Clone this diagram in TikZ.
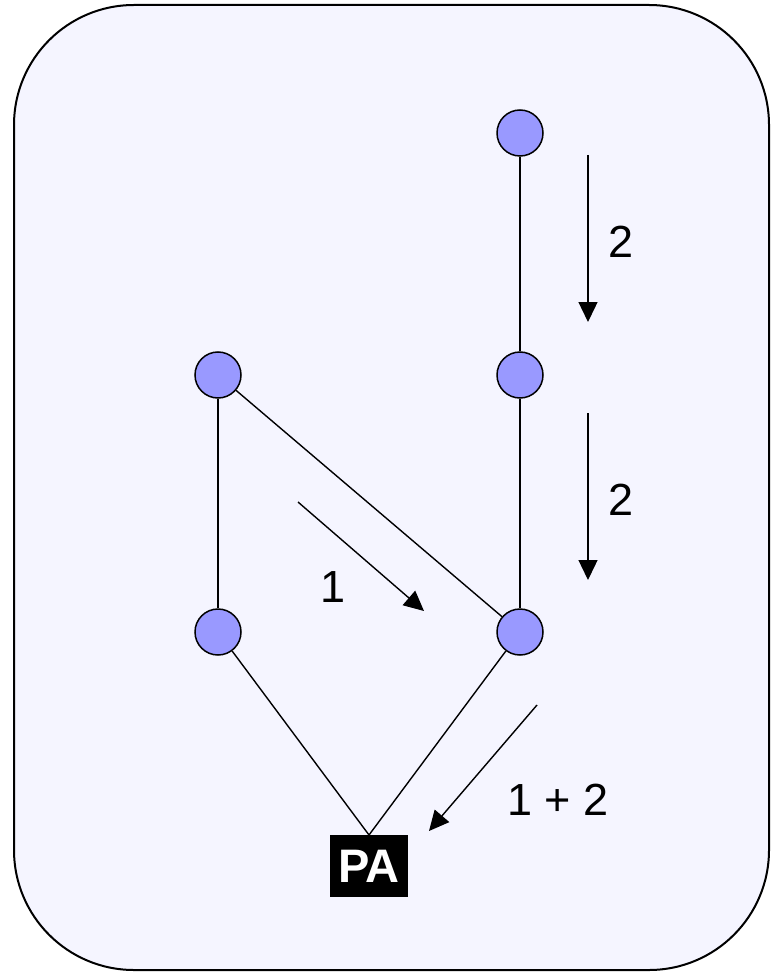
\documentclass[tikz,border=0pt]{standalone}
\usepackage{fontspec}
\setmainfont{Liberation Sans}
\usetikzlibrary{arrows.meta}
\definecolor{panel}{HTML}{F5F5FF}
\definecolor{vertex}{HTML}{9999FF}
\tikzset{
  vert/.style={circle, draw=black, line width=1.5pt, fill=vertex, minimum size=46pt, inner sep=0pt},
  edge/.style={line width=1.4pt},
  flow/.style={line width=1.4pt, -{Triangle[length=20pt,width=19pt]}},
  num/.style={font=\fontsize{45}{48}\selectfont, inner sep=0pt},
  target/.style={fill=black, text=white, minimum width=78pt, minimum height=62pt, inner sep=0pt,
    font=\fontsize{47}{50}\selectfont\bfseries}
}
\begin{document}
\begin{tikzpicture}[x=1pt,y=-1pt]
  \useasboundingbox (0,0) rectangle (777,973);
  % rounded panel
  \draw[line width=2pt, fill=panel, rounded corners=120pt] (14,5) rectangle (769,970);

  % vertices
  \node[vert] (t)  at (520,133) {};
  \node[vert] (rm) at (520,375) {};
  \node[vert] (lm) at (218,375) {};
  \node[vert] (lb) at (218,632) {};
  \node[vert] (rb) at (520,632) {};
  \node[target, anchor=north] (pa) at (369,835) {PA};

  % lattice edges
  \draw[edge] (t) -- (rm);
  \draw[edge] (rm) -- (rb);
  \draw[edge] (lm) -- (lb);
  \draw[edge] (lm) -- (rb);
  \draw[edge] (lb) -- (pa.north);
  \draw[edge] (rb) -- (pa.north);

  % direction arrows
  \coordinate (a1s) at (588,155); \coordinate (a1e) at (588,322);
  \coordinate (a2s) at (588,413); \coordinate (a2e) at (588,580);
  \coordinate (a3s) at (298,502); \coordinate (a3e) at (424,611);
  \coordinate (a4s) at (537,705); \coordinate (a4e) at (429,831);
  \draw[flow] (a1s) -- (a1e);
  \draw[flow] (a2s) -- (a2e);
  \draw[flow] (a3s) -- (a3e);
  \draw[flow] (a4s) -- (a4e);

  % labels
  \node[num] (l1) at (621,242) {2};
  \node[num] (l2) at (621,500) {2};
  \node[num] (l3) at (333,587) {1};
  \node[num] (l4) at (558,800) {1 + 2};
\end{tikzpicture}
\end{document}
